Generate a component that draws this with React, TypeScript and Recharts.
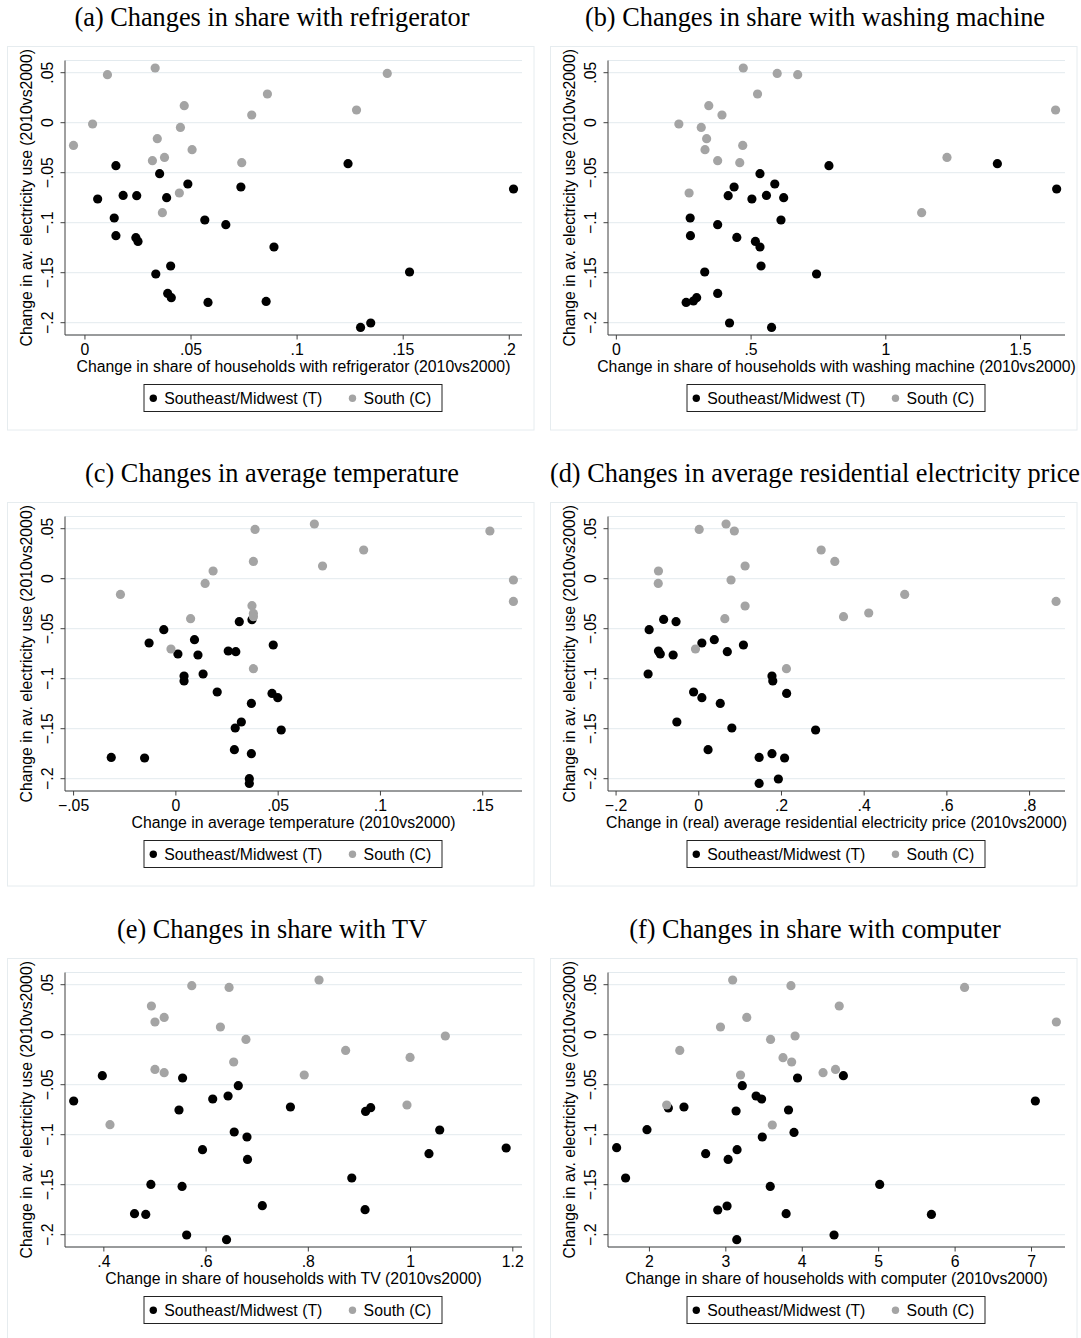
import { ScatterChart, Scatter, XAxis, YAxis, CartesianGrid } from "recharts";

// y axis is shared by all six panels
const yTicks = [-0.2, -0.15, -0.1, -0.05, 0, 0.05];
const yTickLabels = ["−.2", "−.15", "−.1", "−.05", "0", ".05"];
const yDomain = [-0.2123, 0.0622];

const legendT = "Southeast/Midwest (T)";
const legendC = "South (C)";
const yTitle = "Change in av. electricity use (2010vs2000)";

// (a) refrigerator
const refrigTicks = [0, 0.05, 0.1, 0.15, 0.2];
const refrigLabels = ["0", ".05", ".1", ".15", ".2"];
const refrigT = [
  { x: 0.0146, y: -0.043 }, { x: 0.006, y: -0.0763 }, { x: 0.018, y: -0.0727 },
  { x: 0.0244, y: -0.073 }, { x: 0.0352, y: -0.051 }, { x: 0.0385, y: -0.075 },
  { x: 0.0485, y: -0.0613 }, { x: 0.0735, y: -0.0643 }, { x: 0.0138, y: -0.0953 },
  { x: 0.0146, y: -0.113 }, { x: 0.024, y: -0.115 }, { x: 0.025, y: -0.1187 },
  { x: 0.0565, y: -0.0973 }, { x: 0.0664, y: -0.102 }, { x: 0.0891, y: -0.1243 },
  { x: 0.0404, y: -0.1433 }, { x: 0.0334, y: -0.1513 }, { x: 0.039, y: -0.1707 },
  { x: 0.0407, y: -0.175 }, { x: 0.058, y: -0.1797 }, { x: 0.0854, y: -0.1787 },
  { x: 0.124, y: -0.041 }, { x: 0.202, y: -0.0663 }, { x: 0.153, y: -0.1493 },
  { x: 0.1299, y: -0.2047 }, { x: 0.1347, y: -0.2003 },
];
const refrigC = [
  { x: -0.0054, y: -0.0227 }, { x: 0.0036, y: -0.0013 }, { x: 0.0106, y: 0.048 },
  { x: 0.0331, y: 0.0547 }, { x: 0.0341, y: -0.016 }, { x: 0.0318, y: -0.038 },
  { x: 0.0375, y: -0.0347 }, { x: 0.045, y: -0.0047 }, { x: 0.0468, y: 0.017 },
  { x: 0.0505, y: -0.027 }, { x: 0.0445, y: -0.0703 }, { x: 0.0365, y: -0.09 },
  { x: 0.0739, y: -0.04 }, { x: 0.0786, y: 0.0077 }, { x: 0.086, y: 0.0287 },
  { x: 0.128, y: 0.0127 }, { x: 0.1425, y: 0.0493 },
];

// (b) washing machine
const washTicks = [0, 0.5, 1, 1.5];
const washLabels = ["0", ".5", "1", "1.5"];
const washT = [
  { x: 0.789, y: -0.043 }, { x: 1.414, y: -0.041 }, { x: 1.634, y: -0.0663 },
  { x: 0.533, y: -0.051 }, { x: 0.437, y: -0.0643 }, { x: 0.588, y: -0.0613 },
  { x: 0.415, y: -0.073 }, { x: 0.503, y: -0.0763 }, { x: 0.557, y: -0.0727 },
  { x: 0.621, y: -0.075 }, { x: 0.274, y: -0.0953 }, { x: 0.275, y: -0.113 },
  { x: 0.376, y: -0.102 }, { x: 0.447, y: -0.1147 }, { x: 0.611, y: -0.0973 },
  { x: 0.516, y: -0.1187 }, { x: 0.533, y: -0.1243 }, { x: 0.328, y: -0.1493 },
  { x: 0.537, y: -0.1433 }, { x: 0.743, y: -0.1513 }, { x: 0.376, y: -0.1707 },
  { x: 0.259, y: -0.1797 }, { x: 0.286, y: -0.1783 }, { x: 0.298, y: -0.175 },
  { x: 0.42, y: -0.2003 }, { x: 0.576, y: -0.2047 },
];
const washC = [
  { x: 0.471, y: 0.0547 }, { x: 0.597, y: 0.0493 }, { x: 0.673, y: 0.048 },
  { x: 0.524, y: 0.0287 }, { x: 0.343, y: 0.017 }, { x: 0.392, y: 0.0077 },
  { x: 0.232, y: -0.0013 }, { x: 0.315, y: -0.0047 }, { x: 0.335, y: -0.016 },
  { x: 0.469, y: -0.0227 }, { x: 0.329, y: -0.027 }, { x: 0.376, y: -0.038 },
  { x: 0.458, y: -0.04 }, { x: 0.27, y: -0.0703 }, { x: 1.227, y: -0.0347 },
  { x: 1.133, y: -0.09 }, { x: 1.63, y: 0.0127 },
];

// (c) temperature
const tempTicks = [-0.05, 0, 0.05, 0.1, 0.15];
const tempLabels = ["−.05", "0", ".05", ".1", ".15"];
const tempT = [
  { x: 0.031, y: -0.043 }, { x: 0.0372, y: -0.041 }, { x: -0.0059, y: -0.051 },
  { x: -0.0131, y: -0.0643 }, { x: 0.0091, y: -0.061 }, { x: 0.0476, y: -0.0663 },
  { x: 0.0256, y: -0.0723 }, { x: 0.0293, y: -0.073 }, { x: 0.001, y: -0.0753 },
  { x: 0.0108, y: -0.0763 }, { x: 0.0133, y: -0.0953 }, { x: 0.004, y: -0.0973 },
  { x: 0.004, y: -0.1023 }, { x: 0.0202, y: -0.1133 }, { x: 0.047, y: -0.1147 },
  { x: 0.0498, y: -0.119 }, { x: 0.0369, y: -0.1247 }, { x: 0.032, y: -0.1433 },
  { x: 0.029, y: -0.1493 }, { x: 0.0515, y: -0.1513 }, { x: 0.0286, y: -0.171 },
  { x: 0.0369, y: -0.175 }, { x: -0.0316, y: -0.1787 }, { x: -0.0153, y: -0.1793 },
  { x: 0.0359, y: -0.2 }, { x: 0.0359, y: -0.2047 },
];
const tempC = [
  { x: 0.0677, y: 0.0547 }, { x: 0.0387, y: 0.0493 }, { x: 0.1535, y: 0.0477 },
  { x: 0.0918, y: 0.0287 }, { x: 0.0379, y: 0.0173 }, { x: 0.0717, y: 0.0127 },
  { x: 0.0182, y: 0.0077 }, { x: 0.0143, y: -0.0047 }, { x: 0.165, y: -0.0013 },
  { x: 0.165, y: -0.0227 }, { x: -0.0271, y: -0.0157 }, { x: 0.0372, y: -0.027 },
  { x: 0.0379, y: -0.0347 }, { x: 0.0379, y: -0.038 }, { x: 0.0072, y: -0.04 },
  { x: -0.0024, y: -0.0703 }, { x: 0.0379, y: -0.09 },
];

// (d) electricity price
const priceTicks = [-0.2, 0, 0.2, 0.4, 0.6, 0.8];
const priceLabels = ["−.2", "0", ".2", ".4", ".6", ".8"];
const priceT = [
  { x: -0.085, y: -0.0407 }, { x: -0.055, y: -0.043 }, { x: -0.12, y: -0.051 },
  { x: 0.0075, y: -0.0643 }, { x: 0.0375, y: -0.061 }, { x: 0.108, y: -0.0663 },
  { x: -0.0975, y: -0.0723 }, { x: -0.093, y: -0.0753 }, { x: -0.062, y: -0.0763 },
  { x: 0.069, y: -0.073 }, { x: -0.1225, y: -0.0953 }, { x: 0.177, y: -0.0973 },
  { x: 0.179, y: -0.1023 }, { x: -0.0125, y: -0.1133 }, { x: 0.2125, y: -0.1147 },
  { x: 0.0075, y: -0.119 }, { x: 0.052, y: -0.1247 }, { x: -0.053, y: -0.1433 },
  { x: 0.08, y: -0.1493 }, { x: 0.2825, y: -0.1513 }, { x: 0.0225, y: -0.171 },
  { x: 0.177, y: -0.175 }, { x: 0.146, y: -0.1787 }, { x: 0.2075, y: -0.1793 },
  { x: 0.1925, y: -0.2003 }, { x: 0.146, y: -0.2047 },
];
const priceC = [
  { x: 0.066, y: 0.0547 }, { x: 0.001, y: 0.0493 }, { x: 0.086, y: 0.0477 },
  { x: 0.296, y: 0.0287 }, { x: 0.329, y: 0.0173 }, { x: 0.112, y: 0.0127 },
  { x: -0.0975, y: 0.0077 }, { x: -0.098, y: -0.0047 }, { x: 0.078, y: -0.0013 },
  { x: 0.864, y: -0.0227 }, { x: 0.498, y: -0.0157 }, { x: 0.112, y: -0.0273 },
  { x: 0.411, y: -0.0343 }, { x: 0.35, y: -0.038 }, { x: 0.063, y: -0.04 },
  { x: -0.008, y: -0.0703 }, { x: 0.212, y: -0.09 },
];

// (e) TV
const tvTicks = [0.4, 0.6, 0.8, 1, 1.2];
const tvLabels = [".4", ".6", ".8", "1", "1.2"];
const tvT = [
  { x: 0.397, y: -0.041 }, { x: 0.341, y: -0.0663 }, { x: 0.554, y: -0.0433 },
  { x: 0.663, y: -0.051 }, { x: 0.643, y: -0.0613 }, { x: 0.613, y: -0.0643 },
  { x: 0.547, y: -0.0753 }, { x: 0.765, y: -0.0723 }, { x: 0.912, y: -0.0767 },
  { x: 0.922, y: -0.073 }, { x: 0.655, y: -0.0973 }, { x: 0.68, y: -0.1023 },
  { x: 1.057, y: -0.0953 }, { x: 0.593, y: -0.115 }, { x: 1.036, y: -0.119 },
  { x: 1.187, y: -0.1133 }, { x: 0.681, y: -0.1247 }, { x: 0.885, y: -0.1433 },
  { x: 0.492, y: -0.1497 }, { x: 0.553, y: -0.1517 }, { x: 0.71, y: -0.171 },
  { x: 0.911, y: -0.175 }, { x: 0.46, y: -0.179 }, { x: 0.482, y: -0.1797 },
  { x: 0.562, y: -0.2003 }, { x: 0.64, y: -0.205 },
];
const tvC = [
  { x: 0.821, y: 0.0547 }, { x: 0.572, y: 0.049 }, { x: 0.645, y: 0.0473 },
  { x: 0.493, y: 0.0287 }, { x: 0.518, y: 0.0173 }, { x: 0.5, y: 0.0127 },
  { x: 0.628, y: 0.0077 }, { x: 1.068, y: -0.0013 }, { x: 0.678, y: -0.0047 },
  { x: 0.873, y: -0.0157 }, { x: 0.999, y: -0.0227 }, { x: 0.654, y: -0.0273 },
  { x: 0.5, y: -0.0347 }, { x: 0.518, y: -0.038 }, { x: 0.792, y: -0.0403 },
  { x: 0.993, y: -0.0703 }, { x: 0.412, y: -0.09 },
];

// (f) computer
const compTicks = [2, 3, 4, 5, 6, 7];
const compLabels = ["2", "3", "4", "5", "6", "7"];
const compT = [
  { x: 4.538, y: -0.041 }, { x: 3.938, y: -0.0433 }, { x: 3.215, y: -0.051 },
  { x: 3.396, y: -0.0613 }, { x: 3.468, y: -0.0643 }, { x: 7.05, y: -0.0663 },
  { x: 2.248, y: -0.0733 }, { x: 2.452, y: -0.0723 }, { x: 3.134, y: -0.0763 },
  { x: 3.82, y: -0.0753 }, { x: 3.892, y: -0.0977 }, { x: 1.968, y: -0.095 },
  { x: 3.477, y: -0.1023 }, { x: 1.571, y: -0.113 }, { x: 3.147, y: -0.115 },
  { x: 2.736, y: -0.119 }, { x: 3.03, y: -0.1247 }, { x: 1.688, y: -0.1433 },
  { x: 5.013, y: -0.1497 }, { x: 3.581, y: -0.1517 }, { x: 3.016, y: -0.1713 },
  { x: 2.894, y: -0.1753 }, { x: 3.789, y: -0.179 }, { x: 5.69, y: -0.1797 },
  { x: 4.416, y: -0.2003 }, { x: 3.143, y: -0.205 },
];
const compC = [
  { x: 3.089, y: 0.0547 }, { x: 3.852, y: 0.049 }, { x: 6.124, y: 0.0473 },
  { x: 4.484, y: 0.0287 }, { x: 3.274, y: 0.0173 }, { x: 2.93, y: 0.0077 },
  { x: 7.325, y: 0.0127 }, { x: 3.906, y: -0.0013 }, { x: 3.585, y: -0.0047 },
  { x: 2.397, y: -0.0157 }, { x: 3.748, y: -0.023 }, { x: 3.861, y: -0.0273 },
  { x: 4.435, y: -0.0347 }, { x: 4.272, y: -0.038 }, { x: 3.192, y: -0.0403 },
  { x: 2.226, y: -0.0703 }, { x: 3.608, y: -0.0903 },
];

const SANS = "'Liberation Sans', Arial, sans-serif";
const SERIF = "'Liberation Serif', 'Times New Roman', serif";
const AXIS = "#404040";
const GRID = "#e3eaee";
const GRAY = "#a4a4a4";
const FS = 15.8;

type Pt = { x: number; y: number };

interface PanelProps {
  title: string;
  xTitle: string;
  domain: number[];
  ticks: number[];
  labels: string[];
  treated: Pt[];
  control: Pt[];
  left: number;
  top: number;
}

function Panel({ title, xTitle, domain, ticks, labels, treated, control, left, top }: PanelProps) {
  const xTick = (p: any) => {
    const i = ticks.findIndex((t) => Math.abs(t - p.payload.value) < 1e-9);
    return (
      <text x={p.x} y={355} textAnchor="middle" fontSize={FS} fontFamily={SANS} fill="#000">
        {labels[i]}
      </text>
    );
  };
  const yTick = (p: any) => {
    const i = yTicks.findIndex((t) => Math.abs(t - p.payload.value) < 1e-9);
    return (
      <text
        x={53.5}
        y={p.y}
        transform={`rotate(-90, 53.5, ${p.y})`}
        textAnchor="middle"
        fontSize={FS}
        fontFamily={SANS}
        fill="#000"
      >
        {yTickLabels[i]}
      </text>
    );
  };

  return (
    <div style={{ position: "absolute", left, top, width: 540, height: 440 }}>
      <ScatterChart width={540} height={440} margin={{ top: 60.5, right: 18, bottom: 85, left: 45 }}>
        <CartesianGrid vertical={false} stroke={GRID} strokeWidth={1} />
        <XAxis
          type="number"
          dataKey="x"
          domain={domain}
          ticks={ticks}
          interval={0}
          allowDataOverflow
          height={20}
          tickSize={4.5}
          stroke={AXIS}
          tick={xTick}
        />
        <YAxis
          type="number"
          dataKey="y"
          domain={yDomain}
          ticks={yTicks}
          interval={0}
          allowDataOverflow
          width={20}
          tickSize={4.5}
          stroke={AXIS}
          tick={yTick}
        />
        <Scatter
          data={treated}
          isAnimationActive={false}
          shape={(p: any) => <circle cx={p.cx} cy={p.cy} r={4.6} fill="#000" />}
        />
        <Scatter
          data={control}
          isAnimationActive={false}
          shape={(p: any) => <circle cx={p.cx} cy={p.cy} r={4.6} fill={GRAY} />}
        />
      </ScatterChart>
      <svg
        width={540}
        height={440}
        style={{ position: "absolute", left: 0, top: 0, pointerEvents: "none" }}
      >
        <rect x={7.5} y={46.5} width={526.5} height={383.5} fill="none" stroke="#e6ecef" />
        <text x={272} y={26} textAnchor="middle" fontSize={26.3} fontFamily={SERIF} fill="#000">
          {title}
        </text>
        <text
          x={32}
          y={197.75}
          transform="rotate(-90, 32, 197.75)"
          textAnchor="middle"
          fontSize={FS}
          fontFamily={SANS}
          fill="#000"
        >
          {yTitle}
        </text>
        <text x={293.5} y={371.5} textAnchor="middle" fontSize={FS} fontFamily={SANS} fill="#000">
          {xTitle}
        </text>
        <rect x={144} y={384.5} width={298} height={27} fill="#fff" stroke="#222" strokeWidth={1} />
        <circle cx={153.3} cy={398.2} r={3.7} fill="#000" />
        <text x={164.3} y={403.5} fontSize={FS} fontFamily={SANS} fill="#000">
          {legendT}
        </text>
        <circle cx={352.5} cy={398.2} r={3.7} fill={GRAY} />
        <text x={363.6} y={403.5} fontSize={FS} fontFamily={SANS} fill="#000">
          {legendC}
        </text>
      </svg>
    </div>
  );
}

export default function App() {
  return (
    <div
      style={{
        position: "absolute",
        left: 0,
        top: 0,
        width: 1081,
        height: 1338,
        background: "#fff",
        overflow: "hidden",
      }}
    >
      <Panel
        title="(a) Changes in share with refrigerator"
        xTitle="Change in share of households with refrigerator (2010vs2000)"
        domain={[-0.0094, 0.206]}
        ticks={refrigTicks}
        labels={refrigLabels}
        treated={refrigT}
        control={refrigC}
        left={0}
        top={0}
      />
      <Panel
        title="(b) Changes in share with washing machine"
        xTitle="Change in share of households with washing machine (2010vs2000)"
        domain={[-0.031, 1.665]}
        ticks={washTicks}
        labels={washLabels}
        treated={washT}
        control={washC}
        left={543}
        top={0}
      />
      <Panel
        title="(c) Changes in average temperature"
        xTitle="Change in average temperature (2010vs2000)"
        domain={[-0.0542, 0.1692]}
        ticks={tempTicks}
        labels={tempLabels}
        treated={tempT}
        control={tempC}
        left={0}
        top={456}
      />
      <Panel
        title="(d) Changes in average residential electricity price"
        xTitle="Change in (real) average residential electricity price (2010vs2000)"
        domain={[-0.2195, 0.8856]}
        ticks={priceTicks}
        labels={priceLabels}
        treated={priceT}
        control={priceC}
        left={543}
        top={456}
      />
      <Panel
        title="(e) Changes in share with TV"
        xTitle="Change in share of households with TV (2010vs2000)"
        domain={[0.324, 1.218]}
        ticks={tvTicks}
        labels={tvLabels}
        treated={tvT}
        control={tvC}
        left={0}
        top={912}
      />
      <Panel
        title="(f) Changes in share with computer"
        xTitle="Change in share of households with computer (2010vs2000)"
        domain={[1.458, 7.438]}
        ticks={compTicks}
        labels={compLabels}
        treated={compT}
        control={compC}
        left={543}
        top={912}
      />
    </div>
  );
}
